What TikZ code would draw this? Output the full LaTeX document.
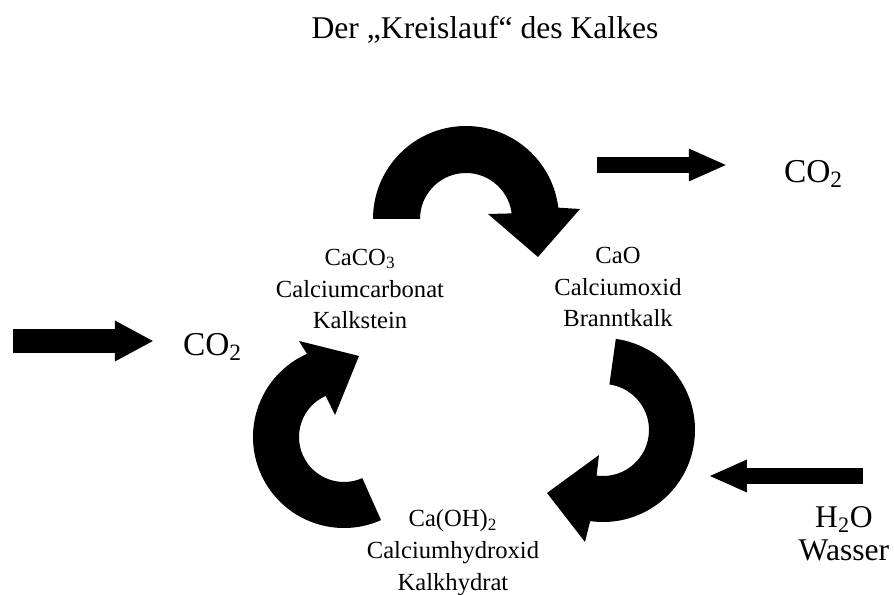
\documentclass[tikz,border=0pt]{standalone}
\usepackage{fontspec}
\setmainfont{Liberation Serif}
\usepackage{tikz}
\usetikzlibrary{arrows.meta}
\tikzstyle{stoff} = [align=center, inner sep=1pt, font=\fontsize{14}{18.2}\selectfont]
\tikzstyle{gross} = [align=center, inner sep=1pt, font=\fontsize{19}{18.5}\selectfont]
\tikzstyle{wasser} = [align=center, inner sep=1pt, font=\fontsize{18}{18.5}\selectfont]
\tikzstyle{titel} = [inner sep=1pt, font=\fontsize{18}{20}\selectfont]
\tikzstyle{pfeil} = [draw, line width=0.32cm, -{Triangle[length=0.74cm, width=0.66cm, line width=0pt]}]
\tikzstyle{pfeildick} = [draw, line width=0.48cm, -{Triangle[length=0.76cm, width=0.82cm, line width=0pt]}]
\tikzstyle{bogen} = [fill=black]

\begin{document}
\begin{tikzpicture}[x=0.02cm, y=0.02cm]
\useasboundingbox (0,0) rectangle (894,595);

\node [titel] (titel) at (485,565) {Der „Kreislauf“ des Kalkes};

\node [stoff] (caco3) at (360,306) {CaCO\textsubscript{3}\\Calciumcarbonat\\Kalkstein};
\node [stoff] (cao) at (618,308) {CaO\\Calciumoxid\\Branntkalk};
\node [stoff] (caoh) at (453,42) {Ca(OH)\textsubscript{2}\\Calciumhydroxid\\Kalkhydrat};
\node [gross, anchor=west] (co2L) at (181,248) {CO\textsubscript{2}};
\node [gross, anchor=west] (co2R) at (782,421) {CO\textsubscript{2}};
\node [wasser] (h2o) at (844,61) {H\textsubscript{2}O\\Wasser};

\coordinate (einL) at (13,254);
\coordinate (ausR) at (597,430);
\coordinate (wasserEin) at (863,119);
\coordinate (wasserSpitze) at (710,119);

% Kreislauf
\fill [bogen] ([shift={(466,376)}]180:93) arc [start angle=180, end angle=7, radius=93]
  -- (580,386) -- (538,338) -- (488,381)
  -- ([shift={(466,376)}]7:46) arc [start angle=7, end angle=180, radius=46] -- cycle;
\fill [bogen] ([shift={(603,165)}]82:92) arc [start angle=82, end angle=-98, radius=92]
  -- (585,53) -- (547,102) -- (599,140)
  -- ([shift={(603,165)}]-98:46) arc [start angle=-98, end angle=82, radius=46] -- cycle;
\fill [bogen] ([shift={(344,158)}]-66:91) arc [start angle=-66, end angle=-246, radius=91]
  -- (299,254) -- (359,239) -- (335,180)
  -- ([shift={(344,158)}]114:45) arc [start angle=114, end angle=294, radius=45] -- cycle;

\path [pfeildick] (einL) -- ([xshift=-16]co2L.west |- einL);
\path [pfeil] (ausR) -- ([xshift=-32]co2R.west |- ausR);
\path [pfeil] (wasserEin) -- (wasserSpitze);

\end{tikzpicture}
\end{document}
